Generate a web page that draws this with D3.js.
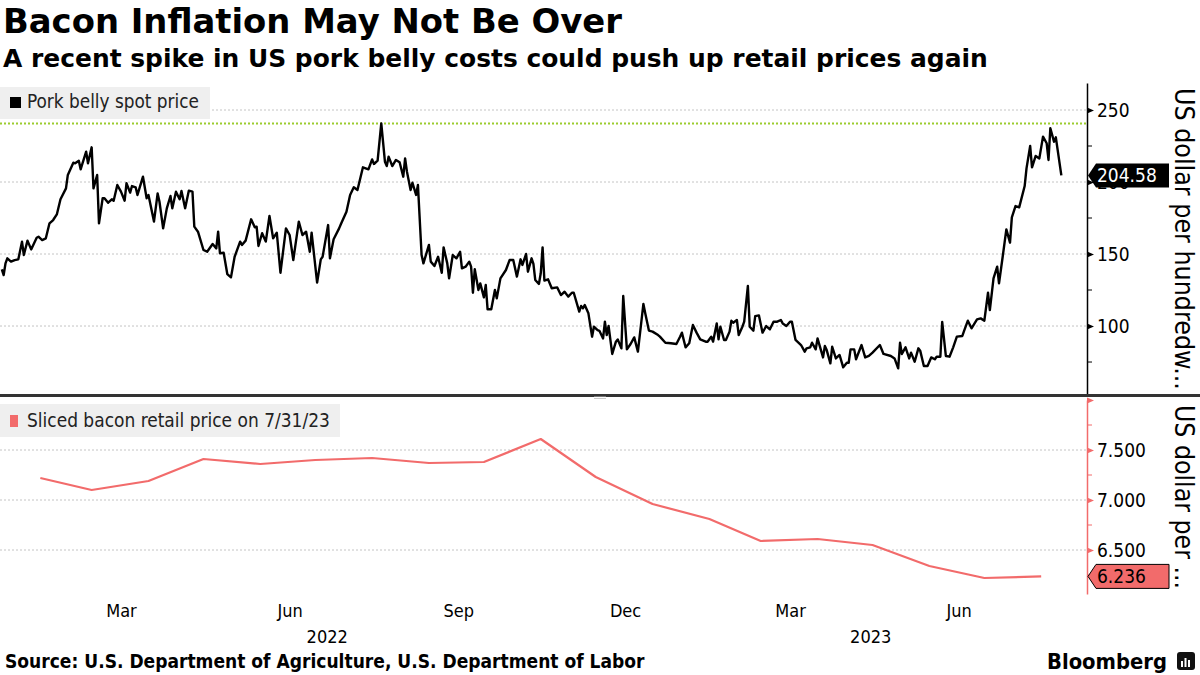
<!DOCTYPE html>
<html><head><meta charset="utf-8">
<script src="https://cdn.jsdelivr.net/npm/d3@7"></script>
<style>html,body{margin:0;padding:0;background:#fff;} svg{display:block;}</style>
</head><body>
<svg id="c" width="1200" height="675"></svg>
<script>
// ---------------- DATA ----------------
const porkDates = [
"2022-01-10","2022-01-11","2022-01-12","2022-01-13","2022-01-15","2022-01-17","2022-01-19","2022-01-21","2022-01-22","2022-01-24",
"2022-01-26","2022-01-29","2022-01-30","2022-02-01","2022-02-03","2022-02-05","2022-02-07","2022-02-09","2022-02-11","2022-02-14",
"2022-02-15","2022-02-18","2022-02-19","2022-02-21","2022-02-22","2022-02-23","2022-02-25","2022-02-26","2022-02-28","2022-03-01",
"2022-03-03","2022-03-04","2022-03-06","2022-03-07","2022-03-09","2022-03-11","2022-03-12","2022-03-14","2022-03-16","2022-03-18",
"2022-03-19","2022-03-21","2022-03-22","2022-03-24","2022-03-25","2022-03-28","2022-03-30","2022-03-31","2022-04-03","2022-04-05",
"2022-04-06","2022-04-08","2022-04-10","2022-04-12","2022-04-13","2022-04-15","2022-04-17","2022-04-18","2022-04-20","2022-04-22",
"2022-04-24","2022-04-25","2022-04-27","2022-04-30","2022-05-02","2022-05-05","2022-05-07","2022-05-08","2022-05-09","2022-05-11",
"2022-05-13","2022-05-15","2022-05-17","2022-05-20","2022-05-21","2022-05-23","2022-05-26","2022-05-28","2022-05-29","2022-05-30",
"2022-06-01","2022-06-03","2022-06-05","2022-06-07","2022-06-09","2022-06-11","2022-06-14","2022-06-16","2022-06-18","2022-06-21",
"2022-06-23","2022-06-25","2022-06-27","2022-06-28","2022-07-01","2022-07-03","2022-07-04","2022-07-07","2022-07-08","2022-07-10",
"2022-07-13","2022-07-14","2022-07-17","2022-07-19","2022-07-21","2022-07-23","2022-07-26","2022-07-29","2022-07-31","2022-08-01",
"2022-08-03","2022-08-05","2022-08-07","2022-08-08","2022-08-09","2022-08-11","2022-08-13","2022-08-15","2022-08-17","2022-08-18",
"2022-08-19","2022-08-21","2022-08-22","2022-08-24","2022-08-25","2022-08-27","2022-08-28","2022-08-31","2022-09-01","2022-09-03",
"2022-09-05","2022-09-07","2022-09-08","2022-09-10","2022-09-11","2022-09-13","2022-09-15","2022-09-17","2022-09-18","2022-09-20",
"2022-09-22","2022-09-23","2022-09-24","2022-09-25","2022-09-27","2022-09-28","2022-09-30","2022-10-01","2022-10-02","2022-10-04",
"2022-10-06","2022-10-07","2022-10-09","2022-10-12","2022-10-14","2022-10-16","2022-10-18","2022-10-20","2022-10-21","2022-10-23",
"2022-10-24","2022-10-26","2022-10-27","2022-10-28","2022-10-30","2022-10-31","2022-11-01","2022-11-02","2022-11-04","2022-11-06",
"2022-11-09","2022-11-11","2022-11-13","2022-11-15","2022-11-17","2022-11-18","2022-11-21","2022-11-22","2022-11-23","2022-11-24",
"2022-11-26","2022-11-28","2022-11-29","2022-12-01","2022-12-02","2022-12-04","2022-12-05","2022-12-06","2022-12-07","2022-12-09",
"2022-12-11","2022-12-12","2022-12-14","2022-12-15","2022-12-17","2022-12-19","2022-12-21","2022-12-23","2022-12-26","2022-12-27",
"2022-12-29","2022-12-31","2023-01-03","2023-01-04","2023-01-07","2023-01-10","2023-01-13","2023-01-15","2023-01-16","2023-01-18",
"2023-01-20","2023-01-22","2023-01-24","2023-01-26","2023-01-29","2023-01-30","2023-02-01","2023-02-02","2023-02-04","2023-02-05",
"2023-02-06","2023-02-08","2023-02-09","2023-02-11","2023-02-12","2023-02-13","2023-02-15","2023-02-16","2023-02-18","2023-02-19",
"2023-02-21","2023-02-22","2023-02-24","2023-02-25","2023-02-27","2023-03-01","2023-03-03","2023-03-05","2023-03-07","2023-03-09",
"2023-03-11","2023-03-12","2023-03-14","2023-03-16","2023-03-17","2023-03-19","2023-03-22","2023-03-24","2023-03-25","2023-03-27",
"2023-03-28","2023-03-30","2023-03-31","2023-04-03","2023-04-04","2023-04-05","2023-04-07","2023-04-08","2023-04-10","2023-04-12",
"2023-04-14","2023-04-16","2023-04-17","2023-04-18","2023-04-20","2023-04-21","2023-04-24","2023-04-26","2023-04-28","2023-04-30",
"2023-05-04","2023-05-06","2023-05-10","2023-05-12","2023-05-14","2023-05-15","2023-05-16","2023-05-18","2023-05-20","2023-05-21",
"2023-05-23","2023-05-25","2023-05-26","2023-05-28","2023-05-30","2023-06-01","2023-06-03","2023-06-04","2023-06-06","2023-06-07",
"2023-06-09","2023-06-11","2023-06-13","2023-06-15","2023-06-18","2023-06-19","2023-06-21","2023-06-23","2023-06-26","2023-06-28",
"2023-06-30","2023-07-02","2023-07-03","2023-07-05","2023-07-07","2023-07-08","2023-07-10","2023-07-12","2023-07-14","2023-07-15",
"2023-07-17","2023-07-19","2023-07-22","2023-07-23","2023-07-25","2023-07-26","2023-07-28","2023-07-30","2023-08-01","2023-08-03",
"2023-08-04","2023-08-05","2023-08-07","2023-08-08","2023-08-11"];
const porkValues = [
139.4,135.4,143.5,147.0,144.7,145.8,146.3,158.6,149.3,159.3,
153.2,161.3,162.0,159.7,160.9,171.3,173.6,177.5,188.0,195.6,
204.9,213.4,213.0,214.8,208.8,213.0,221.1,213.0,224.1,195.6,
204.9,171.3,188.7,188.7,185.6,188.0,187.0,197.9,193.3,187.0,
199.1,192.6,197.2,196.3,191.0,203.7,188.7,191.0,172.5,192.1,
186.3,167.8,181.7,190.3,181.7,193.3,188.0,193.8,181.7,194.0,
193.3,169.0,165.5,152.8,151.6,156.9,153.9,165.5,150.5,150.9,
136.1,133.8,148.1,158.6,156.3,159.3,174.1,168.5,169.0,155.6,
164.4,158.6,176.4,160.9,164.8,137.0,167.8,163.2,145.8,172.5,
163.2,165.5,151.6,164.8,130.1,146.3,148.1,170.1,147.0,160.2,
167.8,170.8,179.4,191.0,196.3,194.4,210.2,208.8,215.7,212.5,
214.8,240.7,214.1,211.1,217.6,211.1,215.3,213.7,203.7,216.4,
207.2,194.4,199.5,191.0,197.9,149.3,143.5,156.3,144.7,141.7,
148.1,137.0,154.6,143.5,133.1,149.3,147.0,151.6,140.0,141.2,
144.7,141.2,123.1,139.4,125.0,129.6,119.9,128.5,111.6,111.6,
125.0,119.2,133.1,138.9,145.8,145.8,134.3,146.3,142.4,150.0,
137.7,147.0,143.1,132.0,129.2,136.6,154.6,131.5,132.4,126.2,
126.8,121.5,123.8,120.4,123.1,123.1,110.0,113.9,112.3,114.6,
108.8,92.6,99.5,97.2,96.7,91.4,103.0,93.7,100.0,80.6,
89.1,90.7,84.5,120.8,83.8,87.5,92.1,82.2,115.3,108.8,
96.8,96.1,93.7,92.6,88.4,88.0,87.5,92.6,95.4,85.2,
88.0,100.7,95.4,90.7,89.1,89.1,92.6,89.1,101.8,90.7,
99.5,90.3,90.3,96.1,103.7,102.3,104.2,93.7,99.5,103.0,
127.8,99.5,96.8,106.9,107.4,95.4,100.0,97.7,103.0,103.0,
104.2,101.8,100.0,103.0,103.0,90.3,86.8,82.2,84.5,85.2,
88.4,83.8,91.4,78.2,86.1,83.3,74.1,85.6,77.5,79.9,
71.3,74.5,74.5,83.8,83.8,76.9,86.8,78.2,79.2,81.5,
86.8,80.6,79.2,77.5,70.6,88.4,80.6,85.2,77.5,81.5,
75.2,84.5,82.9,72.2,72.2,78.2,76.9,78.7,78.7,102.8,
79.2,78.7,85.2,92.6,93.1,96.8,103.7,98.4,104.6,105.3,
103.7,123.1,111.1,133.1,141.2,129.6,148.1,167.1,157.9,175.5,
183.3,182.4,197.2,209.5,225.0,210.2,218.1,216.4,231.5,226.9,
215.3,237.3,228.0,231.0,204.58];

const baconDates = ["2022-01-31","2022-02-28","2022-03-31","2022-04-30","2022-05-31","2022-06-30","2022-07-31","2022-08-31","2022-09-30","2022-10-31","2022-11-30","2022-12-31","2023-01-31","2023-02-28","2023-03-31","2023-04-30","2023-05-31","2023-06-30","2023-07-31"];
const baconValues = [7.22,7.10,7.19,7.41,7.36,7.40,7.42,7.37,7.38,7.61,7.23,6.96,6.81,6.59,6.61,6.55,6.34,6.22,6.236];

const monthTickDates = ["2022-03-16","2022-06-16","2022-09-16","2022-12-16","2023-03-16","2023-06-16"];
const monthTickLabels = ["Mar","Jun","Sep","Dec","Mar","Jun"];
const yearLabels = ["2022","2023"];
const xDomainDates = ["2022-01-09","2023-08-25"];

const porkTicks = [100,150,200,250];
const porkMinorTicks = [75,125,175,225];
const porkDomain = [53, 268.75];
const baconTicks = [6.5,7.0,7.5,8.0];
const baconMinorTicks = [6.25,6.75,7.25,7.75];
const baconDomain = [6.06, 8.0];

const titleText = "Bacon Inflation May Not Be Over";
const subtitleText = "A recent spike in US pork belly costs could push up retail prices again";
const porkLegend = "Pork belly spot price";
const baconLegend = "Sliced bacon retail price on 7/31/23";
const porkAxisTitle = "US dollar per hundredw...";
const baconAxisTitle = "US dollar per ...";
const sourceText = "Source: U.S. Department of Agriculture, U.S. Department of Labor";

// ---------------- CHART ----------------
const parse = d3.timeParse("%Y-%m-%d");
const svg = d3.select("#c");
const W = 1200, H = 675;
const axisX = 1087;
const BACON = "#f26b6b";
const FONT = "'DejaVu Sans Condensed','DejaVu Sans',sans-serif";
const FONTB = "'DejaVu Sans',sans-serif";

svg.append("rect").attr("width", W).attr("height", H).attr("fill", "#fff");

function fit(sel, w) {
  const len = sel.node().getComputedTextLength();
  const fs = parseFloat(sel.attr("font-size"));
  sel.attr("font-size", (fs * w / len).toFixed(2));
  return sel;
}

// titles
fit(svg.append("text").attr("x", 3).attr("y", 33).attr("font-family", FONTB)
  .attr("font-weight", "bold").attr("font-size", 30).attr("fill", "#000").text(titleText), 619);
fit(svg.append("text").attr("x", 3).attr("y", 67).attr("font-family", FONTB)
  .attr("font-weight", "bold").attr("font-size", 22).attr("fill", "#000").text(subtitleText), 985);

const xScale = d3.scaleTime().domain(xDomainDates.map(parse)).range([0, axisX]);
const yTop = d3.scaleLinear().domain(porkDomain).range([393.7, 83]);
const yBot = d3.scaleLinear().domain(baconDomain).range([594, 400]);

const pork = porkDates.map((d, i) => ({ date: parse(d), value: porkValues[i] }));
const bacon = baconDates.map((d, i) => ({ date: parse(d), value: baconValues[i] }));

// ---- top panel ----
const topG = svg.append("g");
topG.selectAll(".gt").data(porkTicks).join("line")
  .attr("x1", 0).attr("x2", axisX).attr("y1", d => yTop(d)).attr("y2", d => yTop(d))
  .attr("stroke", "#c4c4c4").attr("stroke-width", 1).attr("stroke-dasharray", "2,2");

const maxPork = d3.max(porkValues);
topG.append("line").attr("x1", 0).attr("x2", axisX)
  .attr("y1", yTop(maxPork)).attr("y2", yTop(maxPork))
  .attr("stroke", "#9ccc2e").attr("stroke-width", 2).attr("stroke-dasharray", "2,2");

// legend 1
topG.append("rect").attr("x", 0).attr("y", 87).attr("width", 210).attr("height", 32).attr("fill", "#efefef");
topG.append("rect").attr("x", 10).attr("y", 97).attr("width", 11).attr("height", 11).attr("fill", "#000");
fit(topG.append("text").attr("x", 27).attr("y", 108).attr("font-family", FONT).attr("font-size", 16)
  .attr("fill", "#222").text(porkLegend), 172);

topG.append("path").datum(pork)
  .attr("d", d3.line().x(d => xScale(d.date)).y(d => yTop(d.value)))
  .attr("fill", "none").attr("stroke", "#000").attr("stroke-width", 2.4).attr("stroke-linejoin", "round");

// right axis (top)
const axT = svg.append("g").attr("transform", `translate(${axisX},0)`)
  .call(d3.axisRight(yTop).tickValues(porkTicks).tickFormat(d3.format("d")).tickSize(0).tickSizeOuter(0).tickPadding(10));
axT.select(".domain").attr("stroke", "#000").attr("stroke-width", 1.5);
axT.selectAll("text").attr("font-family", FONT).attr("font-size", 19).attr("fill", "#000");
axT.selectAll(".tick").append("path").attr("d", "M0,-3L7,0L0,3Z").attr("fill", "#000");
svg.append("g").selectAll("line").data(porkMinorTicks).join("line")
  .attr("x1", axisX).attr("x2", axisX + 5).attr("y1", d => yTop(d)).attr("y2", d => yTop(d))
  .attr("stroke", "#000").attr("stroke-width", 1);

// axis title top
fit(svg.append("text").attr("transform", `translate(1175,88) rotate(90)`)
  .attr("font-family", FONT).attr("font-size", 22).attr("fill", "#000").text(porkAxisTitle), 302);

// callout top (covers the 200 tick label, as in the original)
const lastPork = porkValues[porkValues.length - 1];
const cy = yTop(lastPork);
svg.append("path").attr("d", `M${axisX + 1},${cy} L${axisX + 9},${cy - 12} L1169,${cy - 12} L1169,${cy + 12} L${axisX + 9},${cy + 12} Z`)
  .attr("fill", "#000");
svg.append("text").attr("x", 1097).attr("y", cy).attr("dy", "0.35em")
  .attr("font-family", FONT).attr("font-size", 19).attr("fill", "#fff").text(d3.format(".2f")(lastPork));

// separator
svg.append("rect").attr("x", 0).attr("y", 394).attr("width", W).attr("height", 3).attr("fill", "#333");
svg.append("line").attr("x1", 594).attr("x2", 606).attr("y1", 396.5).attr("y2", 396.5).attr("stroke", "#888").attr("stroke-width", 0.8);
svg.append("line").attr("x1", 594).attr("x2", 606).attr("y1", 398.5).attr("y2", 398.5).attr("stroke", "#bbb").attr("stroke-width", 0.8);

// ---- bottom panel ----
const botG = svg.append("g");
botG.selectAll("line").data(baconTicks.filter(d => d < 8)).join("line")
  .attr("x1", 0).attr("x2", axisX).attr("y1", d => yBot(d)).attr("y2", d => yBot(d))
  .attr("stroke", "#c4c4c4").attr("stroke-width", 1).attr("stroke-dasharray", "2,2");

botG.append("rect").attr("x", 0).attr("y", 404).attr("width", 340).attr("height", 33).attr("fill", "#efefef");
botG.append("rect").attr("x", 10).attr("y", 415).attr("width", 8).attr("height", 12).attr("fill", BACON);
fit(botG.append("text").attr("x", 27).attr("y", 427).attr("font-family", FONT).attr("font-size", 16)
  .attr("fill", "#222").text(baconLegend), 303);

botG.append("path").datum(bacon)
  .attr("d", d3.line().x(d => xScale(d.date)).y(d => yBot(d.value)))
  .attr("fill", "none").attr("stroke", BACON).attr("stroke-width", 2.2).attr("stroke-linejoin", "round");

const axB = svg.append("g").attr("transform", `translate(${axisX},0)`)
  .call(d3.axisRight(yBot).tickValues(baconTicks).tickFormat(d => d >= 8 ? "" : d3.format(".3f")(d)).tickSize(0).tickSizeOuter(0).tickPadding(10));
axB.select(".domain").attr("stroke", BACON).attr("stroke-width", 1.5);
axB.selectAll("text").attr("font-family", FONT).attr("font-size", 19).attr("fill", "#000");
axB.selectAll(".tick").append("path").attr("d", "M0,-3L7,0L0,3Z").attr("fill", BACON);
svg.append("g").selectAll("line").data(baconMinorTicks).join("line")
  .attr("x1", axisX).attr("x2", axisX + 5).attr("y1", d => yBot(d)).attr("y2", d => yBot(d))
  .attr("stroke", BACON).attr("stroke-width", 1);

fit(svg.append("text").attr("transform", `translate(1175,405) rotate(90)`)
  .attr("font-family", FONT).attr("font-size", 22).attr("fill", "#000").text(baconAxisTitle), 184);

const lastBacon = baconValues[baconValues.length - 1];
const byy = yBot(lastBacon);
svg.append("path").attr("d", `M${axisX + 1},${byy} L${axisX + 9},${byy - 12} L1169,${byy - 12} L1169,${byy + 12} L${axisX + 9},${byy + 12} Z`)
  .attr("fill", BACON).attr("stroke", "#000").attr("stroke-width", 1);
svg.append("text").attr("x", 1097).attr("y", byy).attr("dy", "0.35em")
  .attr("font-family", FONT).attr("font-size", 19).attr("fill", "#000").text(d3.format(".3f")(lastBacon));

// ---- x axis ----
const axX = svg.append("g").attr("transform", "translate(0,600)")
  .call(d3.axisBottom(xScale).tickValues(monthTickDates.map(parse)).tickFormat((d, i) => monthTickLabels[i]).tickSize(0).tickPadding(4));
axX.select(".domain").remove();
axX.selectAll("text").attr("font-family", FONT).attr("font-size", 18).attr("fill", "#000");

const years = yearLabels.map(yr => {
  const s = d3.max([parse(yr + "-01-01"), xScale.domain()[0]]);
  const e = d3.min([parse((+yr + 1) + "-01-01"), xScale.domain()[1]]);
  return { label: yr, cx: (xScale(s) + xScale(e)) / 2 };
});
svg.append("g").selectAll("text").data(years).join("text")
  .attr("x", d => d.cx).attr("y", 643).attr("text-anchor", "middle")
  .attr("font-family", FONT).attr("font-size", 18).attr("fill", "#000").text(d => d.label);

// footer
fit(svg.append("text").attr("x", 5).attr("y", 668).attr("font-family", FONT).attr("font-weight", "bold")
  .attr("font-size", 16).attr("fill", "#000").text(sourceText), 640);
fit(svg.append("text").attr("x", 1047).attr("y", 669).attr("font-family", FONT).attr("font-weight", "bold")
  .attr("font-size", 20).attr("fill", "#000").text("Bloomberg"), 120);
const logo = svg.append("g").attr("transform", "translate(1177,652)");
logo.append("rect").attr("width", 18).attr("height", 18).attr("rx", 3).attr("fill", "#111");
[[4,9,2,6],[7.5,6,2,9],[11,8,2,7]].forEach(b => logo.append("rect").attr("x", b[0]).attr("y", b[1]).attr("width", b[2]).attr("height", b[3]).attr("fill", "#fff"));
</script>
</body></html>
